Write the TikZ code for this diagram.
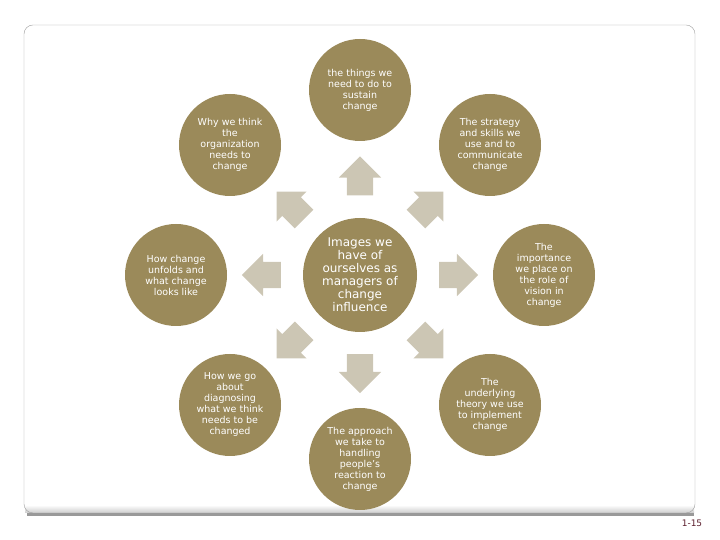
\documentclass[tikz,border=0pt]{standalone}
\usepackage{fontspec}
\setmainfont{DejaVu Sans}
\usetikzlibrary{shapes.arrows,calc}
\definecolor{circlegold}{HTML}{9B8A5A}
\definecolor{arrowgray}{HTML}{CCC6B4}
\definecolor{framegray}{HTML}{9C9C9C}
\definecolor{pagemaroon}{HTML}{5C1F2E}
\tikzset{
    outer/.style={circle, fill=circlegold, text=white, minimum size=102pt, inner sep=0pt, align=center, font=\fontsize{9.5}{11}\selectfont},
    inner/.style={outer, minimum size=114pt, font=\fontsize{12}{13}\selectfont},
    blockarrow/.style={single arrow, fill=arrowgray, minimum height=39pt, inner xsep=0pt, inner ysep=13pt, single arrow head extend=8pt}
}
\begin{document}
\begin{tikzpicture}[x=1pt, y=1pt]
    \useasboundingbox (0,0) rectangle (720,540);
    % slide frame
    \shade[top color=white, bottom color=black!20] (25,27) rectangle (694,35);
    \draw[framegray, rounded corners=9pt] (24,27) rectangle (695,515);
    \draw[black!40, line width=2.5pt] (27,25.5) -- (694,25.5);
    % circles
    \node[inner] (ctr) at (360,265) {Images we\\have of\\ourselves as\\managers of\\change\\influence};
    \node[outer] (top) at (360,450) {the things we\\need to do to\\sustain\\change};
    \node[outer] (upperRight) at (490,395) {The strategy\\and skills we\\use and to\\communicate\\change};
    \node[outer] (right) at (544,265) {The\\importance\\we place on\\the role of\\vision in\\change};
    \node[outer] (lowerRight) at (490,135) {The\\underlying\\theory we use\\to implement\\change};
    \node[outer] (bottom) at (360,81) {The approach\\we take to\\handling\\people’s\\reaction to\\change};
    \node[outer] (lowerLeft) at (230,135) {How we go\\about\\diagnosing\\what we think\\needs to be\\changed};
    \node[outer] (left) at (176,265) {How change\\unfolds and\\what change\\looks like};
    \node[outer] (upperLeft) at (230,395) {Why we think\\the\\organization\\needs to\\change};
    % arrows
    \foreach \n/\a in {top/90, upperRight/45, right/0, lowerRight/-45, bottom/-90, lowerLeft/-135, left/180, upperLeft/135}
        \node[blockarrow, rotate=\a] (arrow-\n) at ($(ctr)!0.5!(\n)$) {};
    \node[text=pagemaroon, font=\fontsize{9}{10}\selectfont] (pageNo) at (692,17) {1-15};
\end{tikzpicture}
\end{document}
